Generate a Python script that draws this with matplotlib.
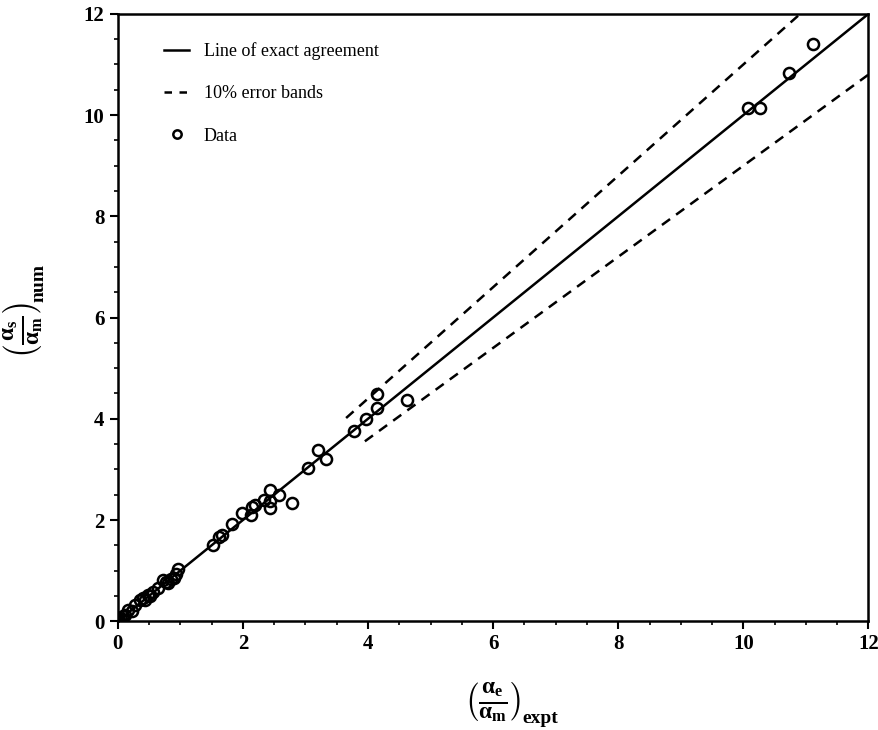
import numpy as np
import matplotlib.pyplot as plt
from matplotlib.lines import Line2D

plt.rcParams['font.family'] = 'Liberation Serif'
plt.rcParams['mathtext.fontset'] = 'custom'
plt.rcParams['mathtext.rm'] = 'Liberation Serif:bold'
plt.rcParams['mathtext.it'] = 'Liberation Serif:bold'
plt.rcParams['mathtext.bf'] = 'Liberation Serif:bold'

expt = [0.0, 0.02, 0.05, 0.08, 0.12, 0.16, 0.22, 0.27, 0.35, 0.40, 0.44, 0.48, 0.52,
        0.56, 0.64, 0.72, 0.77, 0.80, 0.85, 0.90, 0.93, 0.96,
        1.52, 1.62, 1.67, 1.83, 1.99, 2.13, 2.15, 2.20, 2.34, 2.44, 2.44, 2.44, 2.58, 2.78,
        3.04, 3.20, 3.33, 3.78, 3.97, 4.14, 4.15, 4.63,
        10.07, 10.27, 10.73, 11.12]
num = [0.0, 0.03, 0.04, 0.10, 0.12, 0.22, 0.20, 0.32, 0.42, 0.45, 0.42, 0.51, 0.50,
       0.58, 0.65, 0.81, 0.78, 0.76, 0.84, 0.86, 0.94, 1.04,
       1.50, 1.67, 1.70, 1.93, 2.13, 2.09, 2.26, 2.29, 2.39, 2.60, 2.38, 2.23, 2.50, 2.33,
       3.02, 3.39, 3.21, 3.75, 3.99, 4.49, 4.22, 4.37,
       10.15, 10.15, 10.84, 11.40]

exact_x = [0, 12]
upper_x = [3.65, 10.91]
lower_x = [3.95, 12]

W, H = 879, 730
fig = plt.figure(figsize=(W / 100, H / 100), dpi=100)
ax = fig.add_axes([0.134, 0.149, 0.854, 0.832])

ax.plot(exact_x, exact_x, '-', color='black', lw=1.8)
ax.plot(upper_x, [1.1 * v for v in upper_x], '--', color='black', lw=1.8, dashes=(4, 3))
ax.plot(lower_x, [0.9 * v for v in lower_x], '--', color='black', lw=1.8, dashes=(4, 3))
ax.plot(expt, num, 'o', mfc='none', mec='black', mew=1.8, ms=8)

ax.set_xlim(0, 12)
ax.set_ylim(0, 12)
ax.set_xticks(np.arange(0, 13, 2))
ax.set_yticks(np.arange(0, 13, 2))
ax.set_xticks(np.arange(0, 12.1, 0.5), minor=True)
ax.set_yticks(np.arange(0, 12.1, 0.5), minor=True)
ax.tick_params(which='major', direction='out', length=6, width=1.5, labelsize=15)
ax.tick_params(which='minor', direction='out', length=3, width=1.2)
for lab in ax.get_xticklabels() + ax.get_yticklabels():
    lab.set_fontweight('bold')
for s in ax.spines.values():
    s.set_linewidth(1.8)

# axis labels: fraction in parentheses + lowered subscript
fig.text(493 / W, 1 - 702 / H, r'$\left(\frac{\alpha_{e}}{\alpha_{m}}\right)$',
         fontsize=24, ha='center', va='center')
fig.text(522 / W, 1 - 727 / H, 'expt', fontsize=14, fontweight='bold',
         ha='left', va='bottom')
fig.text(23 / W, 1 - 330 / H, r'$\left(\frac{\alpha_{s}}{\alpha_{m}}\right)$',
         fontsize=24, ha='center', va='center', rotation=90)
fig.text(48 / W, 1 - 302 / H, 'num', fontsize=14, fontweight='bold',
         ha='right', va='bottom', rotation=90)

handles = [Line2D([], [], color='black', lw=1.8),
           Line2D([], [], color='black', lw=1.8, ls='--', dashes=(3, 3)),
           Line2D([], [], color='black', lw=0, marker='o', mfc='none', mew=1.8, ms=6)]
ax.legend(handles, ['Line of exact agreement', '10% error bands', 'Data'],
          loc='upper left', bbox_to_anchor=(0.04, 0.98), frameon=False,
          fontsize=13, handlelength=1.4, labelspacing=1.4, handletextpad=0.8)

fig.savefig('out.png', dpi=100)
